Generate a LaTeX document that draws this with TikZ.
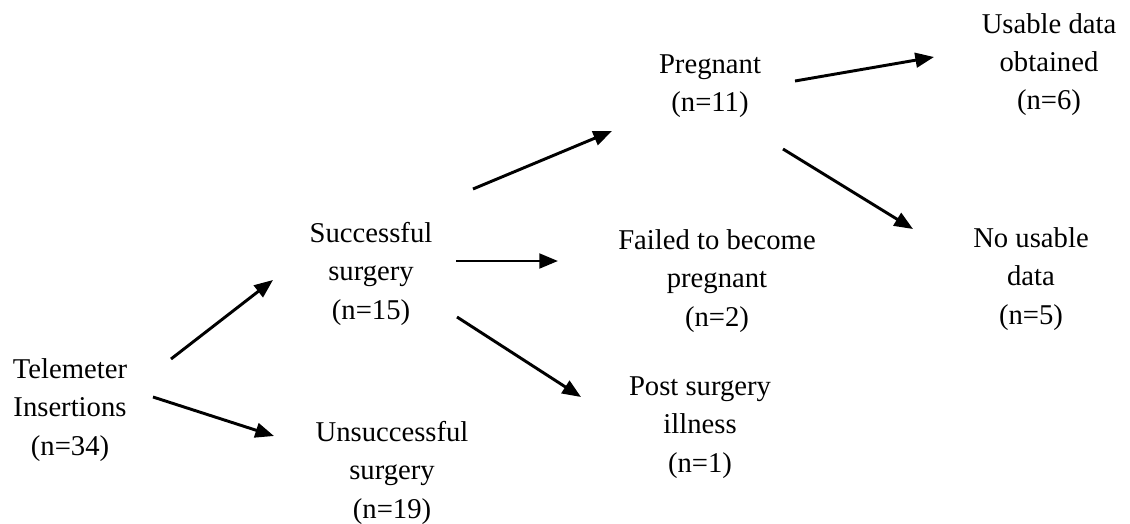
\documentclass[tikz,border=0pt]{standalone}
\usepackage{fontspec}
\setmainfont{Liberation Serif}
\usetikzlibrary{arrows.meta}
\begin{document}
\begin{tikzpicture}[x=0.75pt,y=-0.75pt,
  lbl/.style={align=center,anchor=base,inner sep=0pt,font=\fontsize{21.5}{28.7}\selectfont},
  arr/.style={line width=2.2pt,-{Triangle[length=14pt,width=11pt]}}]
\useasboundingbox (0,0) rectangle (1130,524);
% anchor=base is the baseline of the last line
\node[lbl] (tele)   at (70,455)   {Telemeter\\Insertions\\(n=34)};
\node[lbl] (succ)   at (371,319)  {Successful\\surgery\\(n=15)};
\node[lbl] (unsucc) at (392,518)  {Unsuccessful\\surgery\\(n=19)};
\node[lbl] (preg)   at (710,112)  {Pregnant\\(n=11)};
\node[lbl] (failed) at (717,326)  {Failed to become\\pregnant\\(n=2)};
\node[lbl] (post)   at (700,472)  {Post surgery\\illness\\(n=1)};
\node[lbl] (usable) at (1049,110) {Usable data\\obtained\\(n=6)};
\node[lbl] (nouse)  at (1031,324) {No usable\\data\\(n=5)};
\coordinate (ts1) at (171,359); \coordinate (ts2) at (273,280);
\coordinate (tu1) at (153,397); \coordinate (tu2) at (274,436);
\coordinate (sp1) at (473,189); \coordinate (sp2) at (612,131);
\coordinate (sf1) at (456,261); \coordinate (sf2) at (558,261);
\coordinate (so1) at (457,317); \coordinate (so2) at (581,397);
\coordinate (pu1) at (795,81);  \coordinate (pu2) at (934,57);
\coordinate (pn1) at (783,149); \coordinate (pn2) at (913,229);
\draw[arr] (ts1) -- (ts2);
\draw[arr] (tu1) -- (tu2);
\draw[arr] (sp1) -- (sp2);
\draw[arr] (sf1) -- (sf2);
\draw[arr] (so1) -- (so2);
\draw[arr] (pu1) -- (pu2);
\draw[arr] (pn1) -- (pn2);
\end{tikzpicture}
\end{document}
